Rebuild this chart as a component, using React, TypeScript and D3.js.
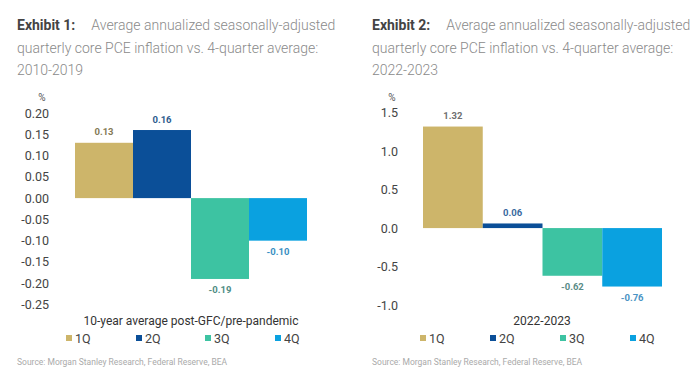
import React from "react";
import * as d3 from "d3";

const quarters = ["1Q", "2Q", "3Q", "4Q"];
const colors = ["#CDB56A", "#0B4F98", "#3DC3A2", "#0AA1E0"];
const labelColors = ["#857a55", "#2d5c8e", "#4f8c84", "#3b8fc2"];
const labelColors2 = ["#707070", "#3a6aa0", "#5a8c88", "#4a93c4"];

const values1 = [0.13, 0.16, -0.19, -0.1];
const ticks1 = [0.2, 0.15, 0.1, 0.05, 0, -0.05, -0.1, -0.15, -0.2, -0.25];
const values2 = [1.32, 0.06, -0.62, -0.76];
const ticks2 = [1.5, 1.0, 0.5, 0.0, -0.5, -1.0];

const title1 = ["Average annualized seasonally-adjusted", "quarterly core PCE inflation vs. 4-quarter average:", "2010-2019"];
const title2 = ["Average annualized seasonally-adjusted", "quarterly core PCE inflation vs. 4-quarter average:", "2022-2023"];
const source = "Source: Morgan Stanley Research, Federal Reserve, BEA";

type PanelProps = {
  ox: number;
  exhibit: string;
  title: string[];
  values: number[];
  ticks: number[];
  domain: [number, number];
  yRange: [number, number];
  xRange: [number, number];
  tickFmt: (v: number) => string;
  tickRight: number;
  pctX: number;
  axisTitle: string;
  axisTitleX: number;
  legendX: number[];
  lblColors: string[];
};

function Panel(p: PanelProps) {
  const y = d3.scaleLinear().domain(p.domain).range(p.yRange);
  const x = d3.scaleBand<string>().domain(quarters).range(p.xRange).padding(0);
  const font = "Roboto, 'Open Sans', sans-serif";
  return (
    <g fontFamily={font}>
      <text x={p.ox} y={30} fontSize={14}>
        <tspan fontWeight={700} fill="#444">{p.exhibit}</tspan>
        <tspan dx={16} fill="#8a8a8a" fontWeight={300}>{p.title[0]}</tspan>
      </text>
      <text x={p.ox} y={53} fontSize={14} fill="#8a8a8a" fontWeight={300}>{p.title[1]}</text>
      <text x={p.ox} y={75} fontSize={14} fill="#8a8a8a" fontWeight={300}>{p.title[2]}</text>
      <text x={p.pctX} y={101} fontSize={10} fill="#555" textAnchor="middle">%</text>
      {p.ticks.map((t) => (
        <text key={t} x={p.tickRight} y={y(t) + 4.5} fontSize={12.5} fill="#444" textAnchor="end">
          {p.tickFmt(t)}
        </text>
      ))}
      {p.values.map((v, i) => {
        const q = quarters[i];
        const y0 = y(0);
        const yv = y(v);
        return (
          <g key={q}>
            <rect x={x(q)} y={Math.min(y0, yv)} width={x.bandwidth()} height={Math.abs(yv - y0)} fill={colors[i]} />
            <text
              x={(x(q) as number) + x.bandwidth() / 2}
              y={v >= 0 ? yv - 7.5 : yv + 14.5}
              fontSize={9.5}
              fontWeight={700}
              fill={p.lblColors[i]}
              textAnchor="middle"
            >
              {v.toFixed(2)}
            </text>
          </g>
        );
      })}
      <text x={p.axisTitleX} y={325} fontSize={12} fill="#333" textAnchor="middle">{p.axisTitle}</text>
      {quarters.map((q, i) => (
        <g key={q}>
          <rect x={p.legendX[i]} y={335} width={6} height={6} fill={colors[i]} />
          <text x={p.legendX[i] + 9} y={342.5} fontSize={12.5} fill="#444">{q}</text>
        </g>
      ))}
      <text x={p.ox} y={365} fontSize={8.5} fill="#aaa">{source}</text>
    </g>
  );
}

export default function App() {
  return (
    <svg width={700} height={379} style={{ position: "absolute", left: 0, top: 0, background: "#fff" }}>
      <rect width={700} height={379} fill="#fff" />
      <Panel
        ox={17}
        exhibit="Exhibit 1:"
        title={title1}
        values={values1}
        ticks={ticks1}
        domain={[-0.25, 0.2]}
        yRange={[304.5, 113]}
        xRange={[75, 307]}
        tickFmt={(v) => d3.format(".2f")(v).replace("−", "-")}
        tickRight={49}
        pctX={42}
        axisTitle="10-year average post-GFC/pre-pandemic"
        axisTitleX={191}
        legendX={[66, 136, 205, 275]}
        lblColors={labelColors}
      />
      <Panel
        ox={372}
        exhibit="Exhibit 2:"
        title={title2}
        values={values2}
        ticks={ticks2}
        domain={[-1.0, 1.5]}
        yRange={[305, 112.7]}
        xRange={[423, 662]}
        tickFmt={(v) => d3.format(".1f")(v).replace("−", "-")}
        tickRight={398}
        pctX={392}
        axisTitle="2022-2023"
        axisTitleX={542}
        legendX={[420, 490, 560, 630]}
        lblColors={labelColors2}
      />
    </svg>
  );
}
